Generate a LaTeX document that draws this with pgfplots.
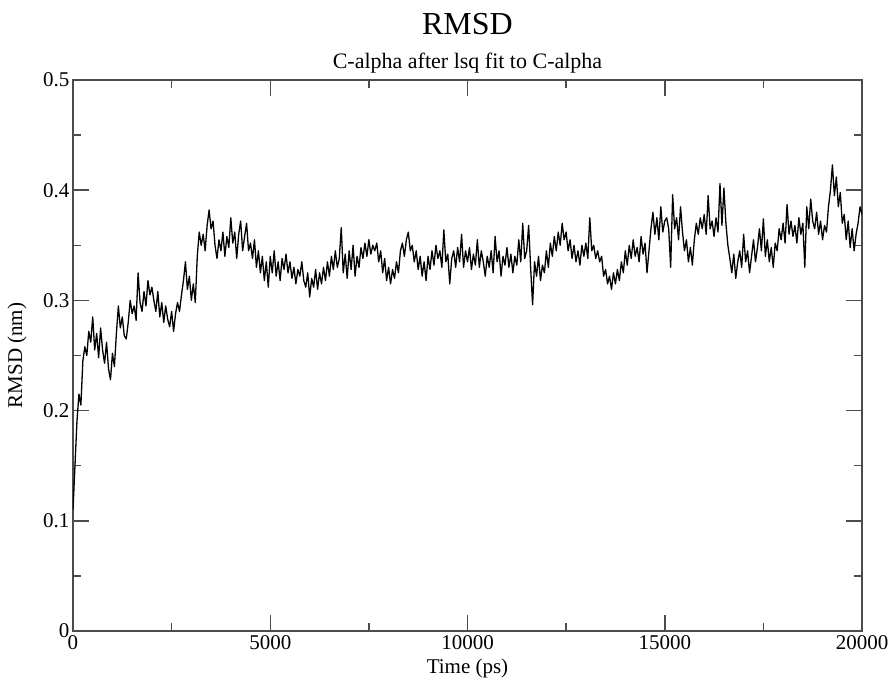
\documentclass[border=0pt]{standalone}
\usepackage{pgfplots}
\pgfplotsset{compat=1.18}
\usepackage{pgfplotstable}
\usepackage{fontspec}
\setmainfont{Liberation Serif}
\pgfplotstableread{
y
0.110
0.150
0.190
0.215
0.205
0.245
0.258
0.250
0.272
0.262
0.285
0.255
0.270
0.248
0.275
0.255
0.243
0.262
0.238
0.228
0.252
0.240
0.270
0.295
0.275
0.285
0.268
0.265
0.280
0.300
0.288
0.295
0.282
0.325
0.298
0.290
0.308
0.295
0.318
0.305
0.312
0.300
0.290
0.308
0.285
0.298
0.280
0.295
0.283
0.276
0.290
0.272
0.288
0.298
0.290
0.305
0.318
0.335
0.310
0.322
0.300
0.315
0.298
0.340
0.362
0.350
0.360
0.345
0.368
0.382
0.365
0.372
0.350
0.338
0.355
0.345
0.362
0.340
0.358
0.348
0.375
0.352
0.362
0.338
0.360
0.372
0.345
0.358
0.370
0.345
0.352
0.338
0.355
0.330
0.345
0.325
0.340
0.318
0.335
0.312
0.340
0.325
0.345
0.322
0.335
0.318
0.338
0.328
0.342
0.325
0.335
0.320
0.330
0.315
0.328
0.322
0.335
0.318
0.312
0.325
0.303
0.320
0.312
0.328
0.310
0.325
0.315
0.330
0.318
0.335
0.322
0.340
0.328
0.345
0.330
0.338
0.366
0.325
0.342
0.320
0.345
0.328
0.350
0.322
0.340
0.330
0.348
0.338
0.352
0.340
0.355
0.342
0.350
0.345
0.352
0.335
0.345
0.325
0.338
0.318
0.330
0.315
0.328
0.320
0.335
0.325
0.345
0.352
0.340
0.355
0.362
0.345
0.350
0.335
0.345
0.328
0.340
0.322
0.335
0.318
0.340
0.328
0.345
0.332
0.350
0.338
0.345
0.330
0.364
0.335
0.342
0.315
0.338
0.345
0.330
0.348
0.335
0.360
0.330
0.345
0.335
0.348
0.328
0.342
0.332
0.355
0.330
0.345
0.335
0.322
0.340
0.330
0.345
0.325
0.358
0.335
0.345
0.322
0.340
0.332
0.348
0.330
0.342
0.325
0.340
0.332
0.355
0.335
0.370
0.338
0.345
0.368
0.330
0.296
0.335
0.322
0.340
0.318
0.332
0.325
0.345
0.330
0.352
0.340
0.358
0.345
0.362
0.350
0.370
0.355
0.362
0.345
0.355
0.338
0.350
0.335
0.345
0.332
0.350
0.340
0.352
0.338
0.375
0.345
0.350
0.338
0.345
0.335
0.340
0.322
0.328
0.315
0.322
0.310
0.325
0.315
0.328
0.318
0.335
0.325
0.345
0.332
0.350
0.338
0.355
0.340
0.348
0.335
0.358
0.342
0.352
0.325
0.345
0.365
0.380
0.360
0.375
0.355
0.385
0.362
0.372
0.375
0.365
0.330
0.396
0.365
0.375
0.355
0.385
0.362
0.345
0.355
0.335
0.348
0.332
0.355
0.370
0.360
0.375
0.365
0.378
0.360
0.395
0.365
0.372
0.358
0.375
0.362
0.406
0.368
0.402
0.370
0.350
0.338
0.325
0.342
0.320
0.335
0.345
0.330
0.360
0.335
0.345
0.325
0.340
0.355
0.335
0.348
0.365
0.345
0.374
0.340
0.355
0.335
0.348
0.330
0.352
0.345
0.365
0.355
0.370
0.352
0.387
0.360
0.372
0.358
0.368
0.352
0.375
0.360
0.370
0.330
0.385
0.365
0.392
0.372
0.365
0.380
0.360
0.372
0.355
0.368
0.362
0.385
0.400
0.423
0.395
0.412
0.385
0.398
0.370
0.378
0.355
0.372
0.348
0.365
0.345
0.360
0.370
0.385
0.378
}\rmsd
\begin{document}
\begin{tikzpicture}
\begin{axis}[
  name=ax,
  scale only axis,
  width=789pt, height=551pt,
  xmin=0, xmax=20000, ymin=0, ymax=0.5,
  xtick={0,5000,10000,15000,20000},
  minor xtick={2500,7500,12500,17500},
  ytick={0,0.1,0.2,0.3,0.4,0.5},
  minor ytick={0.05,0.15,0.25,0.35,0.45},
  tick align=inside,
  major tick length=16pt,
  minor tick length=8pt,
  every tick/.style={black!70, line width=1.5pt},
  axis line style={black!70, line width=1.8pt},
  scaled ticks=false,
  /pgf/number format/assume math mode=true,
  xticklabel style={/pgf/number format/fixed, /pgf/number format/1000 sep={}, font=\fontsize{21}{23}\selectfont, yshift=-1pt},
  yticklabel style={/pgf/number format/fixed, /pgf/number format/precision=1, font=\fontsize{21}{23}\selectfont},
  clip=true,
]
\addplot[black, line width=1.3pt, line join=round] table[x expr=\coordindex*50, y=y] {\rmsd};
\end{axis}
\node[font=\fontsize{21}{23}\selectfont] at ([yshift=-37pt]ax.south) {Time (ps)};
\node[font=\fontsize{21}{23}\selectfont, rotate=90] at ([xshift=-56pt]ax.west) {RMSD (nm)};
\node[font=\fontsize{22}{24}\selectfont, inner sep=1pt] at ([yshift=17pt]ax.north) {C-alpha after lsq fit to C-alpha};
\node[font=\fontsize{32}{34}\selectfont, inner sep=1pt] at ([yshift=56pt]ax.north) {RMSD};
\pgfresetboundingbox
\path ([xshift=-73pt,yshift=-54pt]ax.south west) rectangle ([xshift=32pt,yshift=80pt]ax.north east);
\end{tikzpicture}
\end{document}
